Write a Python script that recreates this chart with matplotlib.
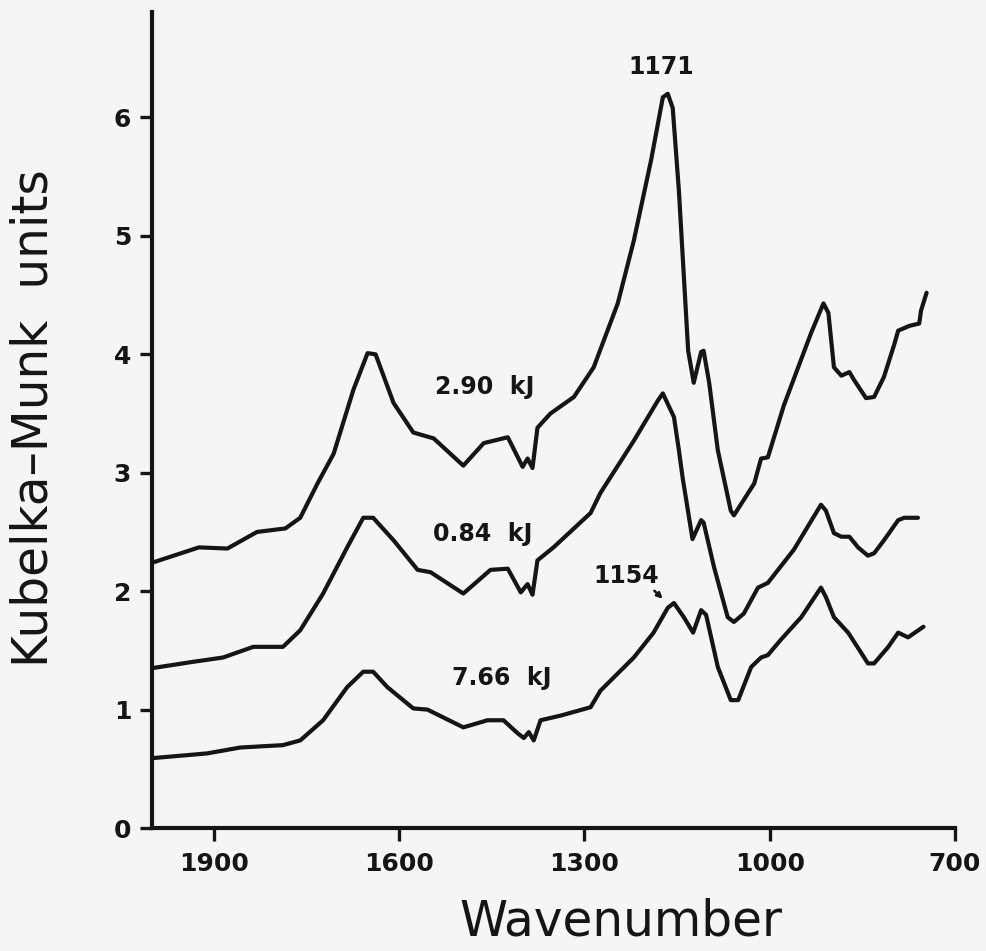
import numpy as np
from matplotlib import pyplot as plt

# wavenumber (cm-1) and Kubelka-Munk values
wn_290 = [2000, 1924, 1878, 1830, 1784, 1760, 1732, 1706, 1674, 1651, 1638, 1609,
          1577, 1544, 1496, 1463, 1424, 1400, 1392, 1384, 1376, 1355, 1317, 1285,
          1246, 1220, 1192, 1173, 1165, 1157, 1147, 1132, 1123, 1111, 1107, 1098,
          1084, 1063, 1058, 1025, 1014, 1003, 977, 933, 913, 905, 896, 884, 871,
          863, 844, 831, 815, 798, 792, 774, 758, 755, 746]
km_290 = [2.24, 2.37, 2.36, 2.50, 2.53, 2.62, 2.91, 3.16, 3.70, 4.01, 4.00, 3.59,
          3.34, 3.29, 3.06, 3.25, 3.30, 3.05, 3.12, 3.04, 3.38, 3.50, 3.64, 3.89,
          4.43, 4.96, 5.64, 6.17, 6.20, 6.08, 5.38, 4.03, 3.76, 4.02, 4.03, 3.76,
          3.19, 2.68, 2.64, 2.91, 3.12, 3.13, 3.57, 4.18, 4.43, 4.35, 3.89, 3.82,
          3.85, 3.78, 3.63, 3.64, 3.81, 4.09, 4.20, 4.24, 4.26, 4.37, 4.52]

wn_084 = [2000, 1938, 1885, 1836, 1788, 1760, 1723, 1684, 1658, 1642, 1609, 1570,
          1549, 1496, 1452, 1424, 1403, 1392, 1384, 1376, 1350, 1290, 1274, 1220,
          1181, 1173, 1155, 1147, 1141, 1125, 1111, 1107, 1090, 1068, 1058, 1042,
          1019, 1003, 961, 917, 909, 896, 884, 871, 857, 841, 831, 815, 792, 782, 760]
km_084 = [1.35, 1.40, 1.44, 1.53, 1.53, 1.67, 1.98, 2.37, 2.62, 2.62, 2.43, 2.18,
          2.16, 1.98, 2.18, 2.19, 1.99, 2.06, 1.97, 2.26, 2.37, 2.66, 2.83, 3.27,
          3.61, 3.67, 3.47, 3.19, 2.96, 2.44, 2.60, 2.58, 2.20, 1.78, 1.74, 1.81,
          2.03, 2.07, 2.35, 2.73, 2.68, 2.49, 2.46, 2.46, 2.37, 2.30, 2.32, 2.43,
          2.60, 2.62, 2.62]

wn_766 = [2000, 1911, 1857, 1788, 1760, 1723, 1684, 1658, 1642, 1619, 1577, 1554,
          1496, 1457, 1431, 1408, 1398, 1390, 1382, 1371, 1338, 1290, 1274, 1220,
          1188, 1165, 1155, 1139, 1124, 1111, 1103, 1084, 1063, 1051, 1030, 1014,
          1003, 982, 949, 917, 909, 896, 873, 852, 841, 831, 808, 792, 776, 751]
km_766 = [0.59, 0.63, 0.68, 0.70, 0.74, 0.91, 1.19, 1.32, 1.32, 1.19, 1.01, 1.00,
          0.85, 0.91, 0.91, 0.80, 0.76, 0.81, 0.74, 0.91, 0.95, 1.02, 1.16, 1.44,
          1.65, 1.86, 1.90, 1.78, 1.65, 1.84, 1.80, 1.36, 1.08, 1.08, 1.36, 1.44,
          1.46, 1.59, 1.78, 2.03, 1.95, 1.78, 1.65, 1.48, 1.39, 1.39, 1.53, 1.65,
          1.61, 1.70]

x_ticks = [1900, 1600, 1300, 1000, 700]
y_ticks = [0, 1, 2, 3, 4, 5, 6]

ink = "#151515"
fig = plt.figure(figsize=(9.87, 9.51), dpi=100, facecolor="#f4f5f4")
ax = fig.add_axes([0.154, 0.1293, 0.8136, 0.858])
ax.set_facecolor("none")

for wn, km in [(wn_290, km_290), (wn_084, km_084), (wn_766, km_766)]:
    ax.plot(wn, km, color=ink, lw=3.0, solid_joinstyle="round", solid_capstyle="round")

ax.set_xlim(2000, 700)
ax.set_ylim(0, 6.89)
ax.set_xticks(x_ticks)
ax.set_yticks(y_ticks)
for s in ["top", "right"]:
    ax.spines[s].set_visible(False)
for s in ["left", "bottom"]:
    ax.spines[s].set_linewidth(3.0)
    ax.spines[s].set_color(ink)
ax.tick_params(axis="both", length=9, width=2.4, color=ink, labelsize=18, labelcolor=ink)
ax.tick_params(axis="x", pad=8)
ax.tick_params(axis="y", pad=6)
for lab in ax.get_xticklabels() + ax.get_yticklabels():
    lab.set_fontweight("bold")

ax.set_xlabel("Wavenumber", fontsize=35, color=ink, va="center")
ax.xaxis.set_label_coords(0.584, -0.114)
ax.set_ylabel("Kubelka–Munk  units", fontsize=35, color=ink, va="center")
ax.yaxis.set_label_coords(-0.148, 0.502)

txt = dict(fontsize=17, fontweight="bold", color=ink, ha="center", va="center")
ax.text(1176, 6.43, "1171", **txt)
ax.text(1462, 3.72, "2.90  kJ", **txt)
ax.text(1465, 2.48, "0.84  kJ", **txt)
ax.text(1434, 1.27, "7.66  kJ", **txt)
ax.text(1233, 2.13, "1154", **txt)
ax.annotate("", xy=(1170, 1.92), xytext=(1190, 2.02),
            arrowprops=dict(arrowstyle="-|>", color=ink, lw=1.8, mutation_scale=8))

fig.savefig("out.png", dpi=100, facecolor=fig.get_facecolor())
